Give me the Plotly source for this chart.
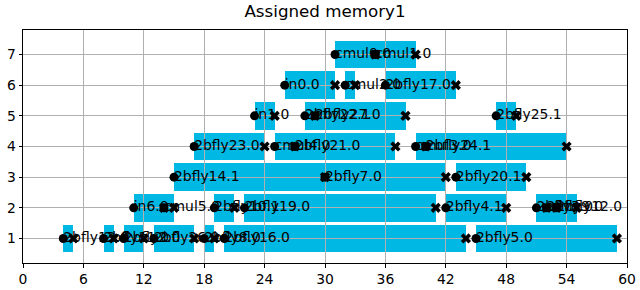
import plotly.graph_objects as go

# ---- data ----
levels = [1, 1, 1, 1, 1, 1, 1,
          2, 2, 2, 2, 2, 2, 2, 2,
          3, 3, 3,
          4, 4, 4, 4, 4,
          5, 5, 5, 5,
          6, 6, 6,
          7, 7]
starts = [4, 8, 10, 13, 18, 20, 45,
          11, 14, 19, 22, 42, 51, 52, 53,
          15, 30, 43,
          17, 25, 27, 39, 40,
          23, 28, 29, 47,
          26, 32, 36,
          31, 35]
ends = [5, 9, 12, 17, 19, 44, 59,
        14, 15, 21, 41, 48, 52, 53, 55,
        30, 42, 50,
        24, 27, 37, 40, 54,
        25, 29, 38, 49,
        31, 33, 43,
        35, 39]
labels = ["2bfly13.0", "2bfly11.0", "2bfly2.0", "2bfly26.0", "2bfly8.0", "2bfly16.0", "2bfly5.0",
          "in6.0", "cmul5.0", "2bfly10.1", "2bfly19.0", "2bfly4.1", "2bfly3.0", "2bfly9.0", "2bfly12.0",
          "2bfly14.1", "2bfly7.0", "2bfly20.1",
          "2bfly23.0", "cmul4.0", "2bfly21.0", "cmul3.0", "2bfly24.1",
          "in1.0", "2bfly22.1", "2bfly27.0", "2bfly25.1",
          "in0.0", "cmul2.0", "2bfly17.0",
          "cmul0.0", "cmul1.0"]
x_ticks = [0, 6, 12, 18, 24, 30, 36, 42, 48, 54, 60]
y_ticks = [1, 2, 3, 4, 5, 6, 7]
title = "Assigned memory1"

BAR = "#00b8e4"
FONT = "DejaVu Sans"

widths = [e - s for s, e in zip(starts, ends)]

fig = go.Figure()
# bars on the lower subplot (no grid) so that the upper subplot's grid is drawn over them
fig.add_trace(go.Bar(orientation="h", base=starts, x=widths, y=levels, width=0.9,
                     marker=dict(color=BAR, line=dict(width=0)),
                     xaxis="x", yaxis="y", showlegend=False, hoverinfo="skip"))
fig.add_trace(go.Scatter(x=starts, y=levels, mode="markers",
                         marker=dict(symbol="circle", size=9, color="black", line=dict(width=0)),
                         xaxis="x2", yaxis="y2", showlegend=False, hoverinfo="skip"))
fig.add_trace(go.Scatter(x=ends, y=levels, mode="markers",
                         marker=dict(symbol="x", size=9, color="black", line=dict(width=0)),
                         xaxis="x2", yaxis="y2", showlegend=False, hoverinfo="skip"))
fig.add_trace(go.Scatter(x=starts, y=levels, mode="text", text=labels,
                         textposition="middle right",
                         textfont=dict(family=FONT, size=13.9, color="black"),
                         xaxis="x2", yaxis="y2", showlegend=False, hoverinfo="skip"))

xr = [x_ticks[0], x_ticks[-1]]
yr = [0.2, 7.8]
hidden = dict(showgrid=False, zeroline=False, showline=False, showticklabels=False,
              ticks="", automargin=False)
axis_style = dict(showgrid=True, gridcolor="#b0b0b0", gridwidth=1, zeroline=False,
                  showline=True, mirror=True, linecolor="black", linewidth=1,
                  ticks="outside", ticklen=3.5, tickwidth=1, tickcolor="black",
                  automargin=False,
                  tickfont=dict(family=FONT, size=13.9, color="black"))
fig.update_layout(
    width=640, height=290,
    margin=dict(l=23, r=13, t=30, b=27, pad=0, autoexpand=False),
    paper_bgcolor="white", plot_bgcolor="rgba(0,0,0,0)",
    font=dict(family=FONT, size=13.9, color="black"),
    bargap=0, barmode="overlay",
    title=dict(text=title, x=0.5, xref="paper", xanchor="center",
               y=1 - 11 / 290, yref="container", yanchor="middle",
               font=dict(family=FONT, size=16.7, color="black")),
    xaxis=dict(range=xr, domain=[0, 1], anchor="y", **hidden),
    yaxis=dict(range=yr, domain=[0, 1], anchor="x", **hidden),
    xaxis2=dict(range=xr, domain=[0, 1], anchor="y2", tickvals=x_ticks, **axis_style),
    yaxis2=dict(range=yr, domain=[0, 1], anchor="x2", tickvals=y_ticks, **axis_style),
)

fig.write_html("out.html")
